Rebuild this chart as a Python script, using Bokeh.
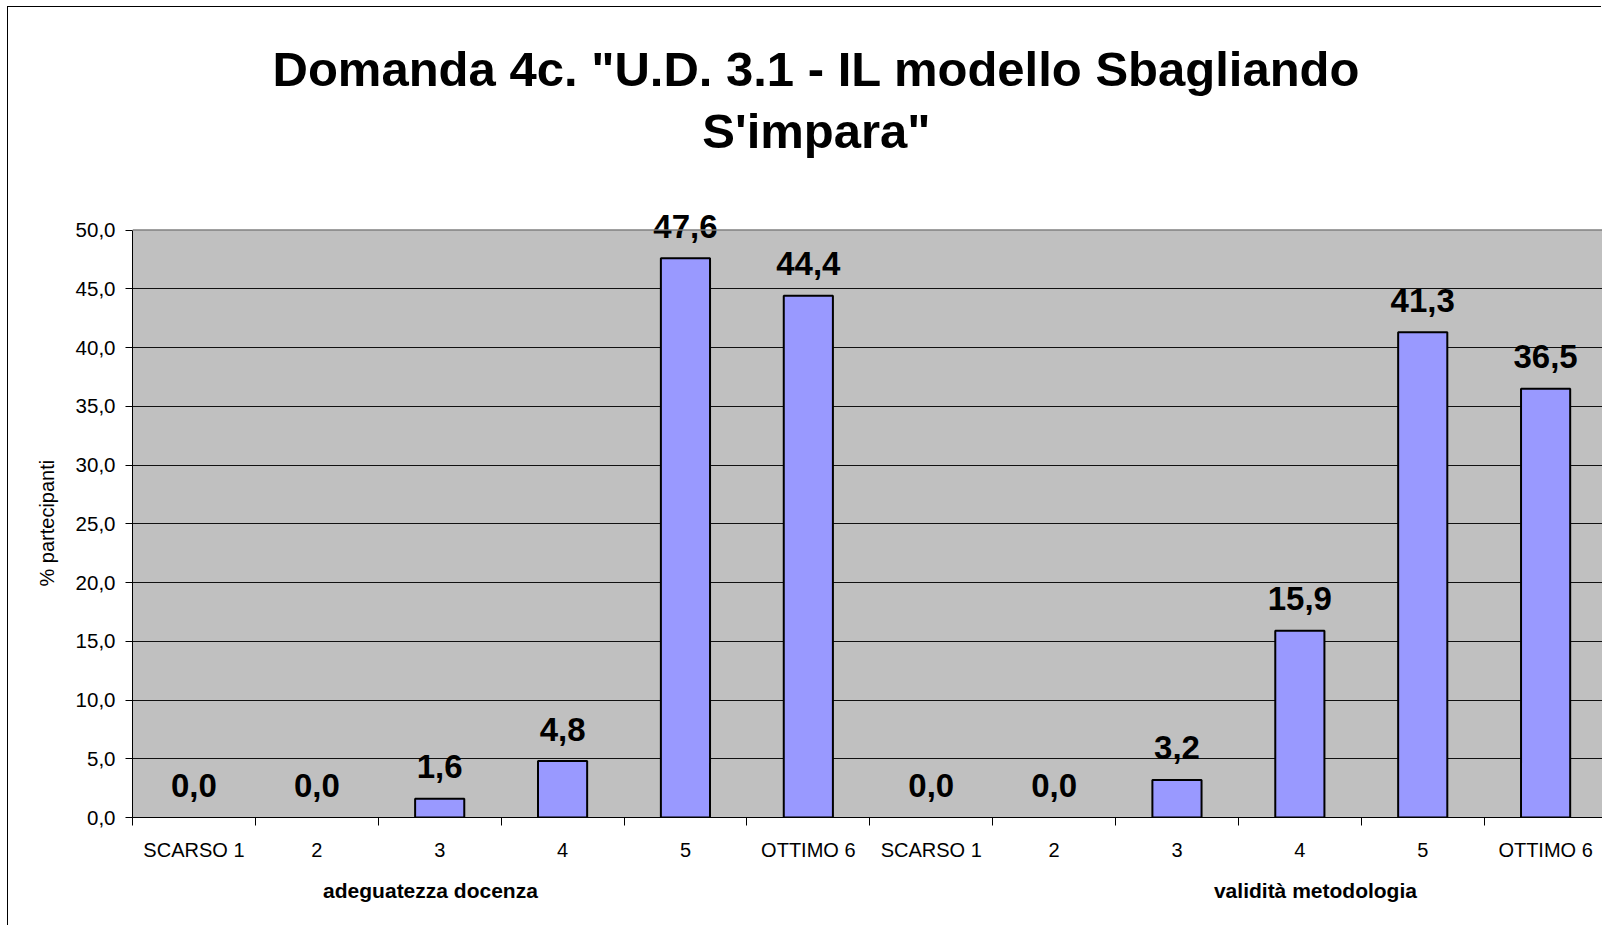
from bokeh.plotting import figure
from bokeh.models import (Range1d, FixedTicker, LinearAxis, BoxAnnotation, Span,
                          ColumnDataSource, Title)
from bokeh.core.properties import value
from bokeh.embed import file_html
from bokeh.resources import INLINE

# ---- data ----
categories = ["SCARSO 1", "2", "3", "4", "5", "OTTIMO 6"]
group_names = ["adeguatezza docenza", "validità metodologia"]
adeguatezza_docenza = [0.0, 0.0, 1.6, 4.8, 47.6, 44.4]
validita_metodologia = [0.0, 0.0, 3.2, 15.9, 41.3, 36.5]
y_ticks = [0, 5, 10, 15, 20, 25, 30, 35, 40, 45, 50]
title_lines = ["Domanda 4c. \"U.D. 3.1 - IL modello Sbagliando", "S'impara\""]
y_label = "% partecipanti"

FONT = "Liberation Sans"

values = adeguatezza_docenza + validita_metodologia
labels = categories + categories
n = len(values)
centers = [i + 0.5 for i in range(n)]
bounds = list(range(n + 1))

W, H = 1594, 919
p = figure(width=W, height=H, output_backend="svg", toolbar_location=None,
           x_range=Range1d(0, 11.963), y_range=Range1d(0, 68.94),
           min_border_left=124, min_border_right=0, min_border_top=0,
           min_border_bottom=109)
p.margin = (7, 0, 0, 8)
p.styles = {"box-shadow": "-1px -1px 0 0 #000000"}
p.background_fill_color = "#FFFFFF"
p.border_fill_color = "#FFFFFF"
p.outline_line_color = None

# plot area (gray) up to the top tick
p.add_layout(BoxAnnotation(bottom=0, top=y_ticks[-1], fill_color="#C0C0C0",
                           fill_alpha=1.0, line_color=None, level="image"))
p.add_layout(Span(location=y_ticks[-1], dimension="width", line_color="#808080",
                  line_width=1.5))

src = ColumnDataSource(dict(x=centers, top=values,
                            txt=[f"{v:.1f}".replace(".", ",") for v in values],
                            lalpha=[1.0 if v > 0 else 0.0 for v in values]))
p.vbar(x="x", top="top", width=0.4, source=src, fill_color="#9999FF",
       line_color="#000000", line_width=2, line_alpha="lalpha")

# value labels
p.text(x="x", y="top", text="txt", source=src, y_offset=-32,
       text_align="center", text_baseline="alphabetic",
       text_font=value(FONT), text_font_size="33px",
       text_font_style="bold", text_color="#000000")

# title
title_x = [5.566, 5.566]
title_y = [63.70, 58.40]
p.text(x=title_x, y=title_y, text=title_lines, text_align="center",
       text_baseline="middle", text_font=value(FONT), text_font_size="49px",
       text_font_style="bold", text_color="#000000")

# grid
p.xgrid.visible = False
p.ygrid.ticker = FixedTicker(ticks=y_ticks[1:-1])
p.ygrid.grid_line_color = "#111111"
p.ygrid.grid_line_width = 1

# y axis
ya = p.yaxis[0]
ya.bounds = (y_ticks[0], y_ticks[-1])
ya.ticker = FixedTicker(ticks=y_ticks)
ya.major_label_overrides = {t: f"{t:.1f}".replace(".", ",") for t in y_ticks}
ya.major_label_text_font = FONT
ya.major_label_text_font_size = "20.5px"
ya.major_label_text_color = "#000000"
ya.major_tick_out = 7
ya.major_tick_in = 0
ya.minor_tick_line_color = None
ya.axis_line_color = "#000000"
ya.major_tick_line_color = "#000000"
ya.major_label_standoff = 10

# y axis title, placed along the tick range
yt = Title(text=y_label, align="left", offset=231, vertical_align="bottom",
           standoff=30, text_font=FONT, text_font_size="20px",
           text_font_style="normal", text_color="#000000")
p.add_layout(yt, "left")

# x axis (categories)
xa = p.xaxis[0]
xa.ticker = FixedTicker(ticks=centers, minor_ticks=bounds)
xa.major_label_overrides = {c: l for c, l in zip(centers, labels)}
xa.major_label_text_font = FONT
xa.major_label_text_font_size = "20px"
xa.major_label_text_color = "#000000"
xa.major_tick_out = 0
xa.major_tick_in = 0
xa.major_tick_line_color = None
xa.minor_tick_out = 8
xa.minor_tick_in = 0
xa.minor_tick_line_color = "#000000"
xa.axis_line_color = "#000000"
xa.major_label_standoff = 13

# group axis
group_pos = [2.425, 9.627]
ga = LinearAxis(ticker=FixedTicker(ticks=group_pos, minor_ticks=[]),
                major_label_overrides={g: t for g, t in zip(group_pos, group_names)})
ga.axis_line_color = None
ga.major_tick_line_color = None
ga.minor_tick_line_color = None
ga.major_tick_out = 0
ga.major_tick_in = 0
ga.major_label_standoff = 15
ga.major_label_text_font = FONT
ga.major_label_text_font_size = "21px"
ga.major_label_text_font_style = "bold"
ga.major_label_text_color = "#000000"
p.add_layout(ga, "below")

open("out.html", "w").write(file_html(p, INLINE))
